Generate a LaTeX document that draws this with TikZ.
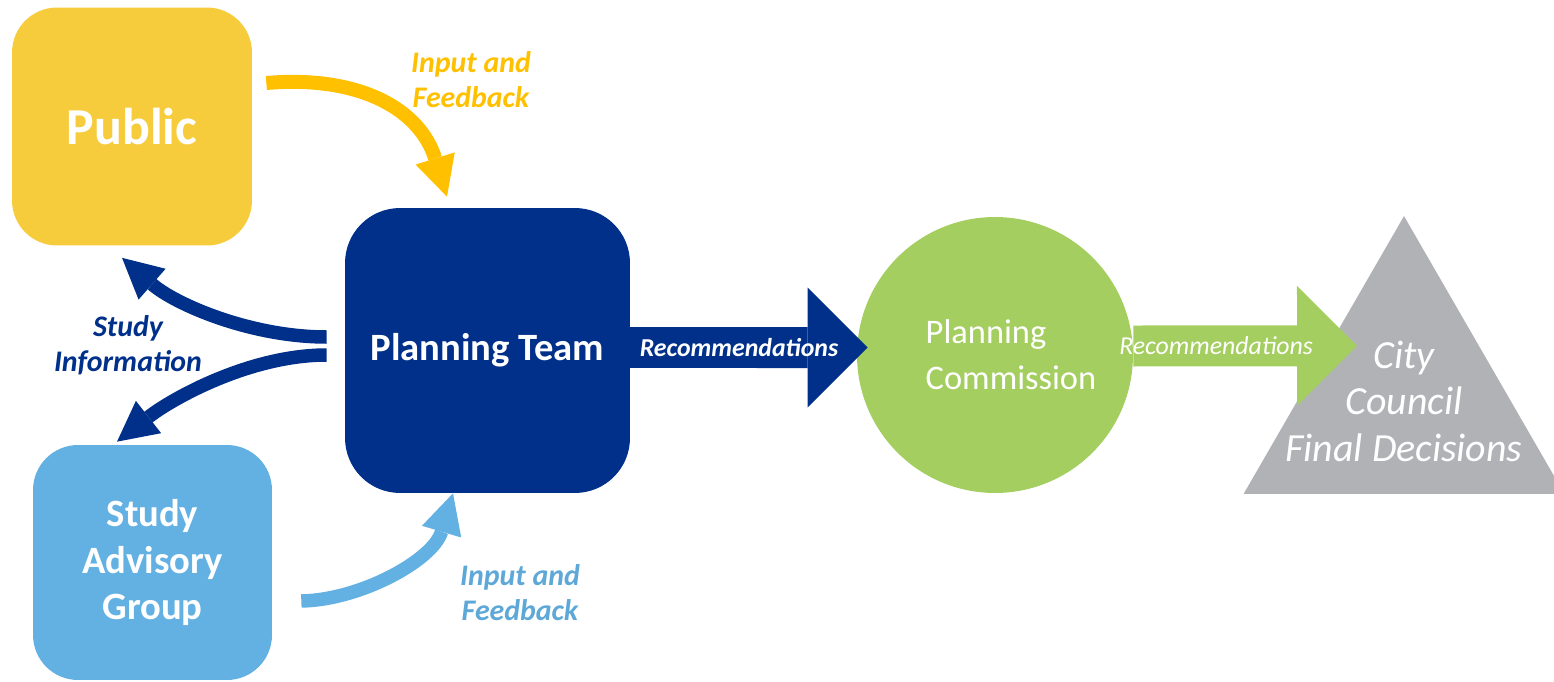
\documentclass[tikz,border=0pt]{standalone}
\usepackage{fontspec}
\setmainfont{Carlito}
\usetikzlibrary{
    shapes.geometric,
    arrows.meta,
    positioning
}
\definecolor{publicgold}{HTML}{F6CC3C}
\definecolor{feedgold}{HTML}{FFC000}
\definecolor{teamblue}{HTML}{00308A}
\definecolor{advisoryblue}{HTML}{63B1E3}
\definecolor{commissiongreen}{HTML}{A4CE5F}
\definecolor{councilgray}{HTML}{B1B2B6}
\tikzset{
    % Rounded group boxes
    panel/.style={
        rectangle,
        rounded corners=0.9cm,
        fill=#1,
        text=white,
        align=center,
        inner sep=0pt,
        font=\fontsize{22}{26.5}\selectfont\bfseries
    },
    % Curved feedback arrows
    curved flow/.style={
        -{Triangle[length=0.8cm, width=0.82cm, line width=0pt]},
        line width=0.27cm,
        color=#1
    },
    % Wide block arrows
    block flow/.style={
        -{Triangle[length=1.2cm, width=2.4cm, line width=0pt]},
        line width=0.82cm,
        color=#1
    },
    % Arrow labels
    flow label/.style={
        font=\fontsize{17}{20}\selectfont\bfseries\itshape,
        text=#1,
        align=center
    },
    block label/.style={
        font=\fontsize{14.7}{17}\selectfont\itshape,
        text=white
    }
}

\begin{document}
\begin{tikzpicture}[x=0.02cm, y=-0.02cm]
    \useasboundingbox (0,0) rectangle (1554,682);

    % Groups
    \node[panel=publicgold, minimum width=4.8cm, minimum height=4.76cm,
          font=\fontsize{29.5}{34}\selectfont\bfseries] (public) at (132,126.5) {Public};
    \node[panel=advisoryblue, minimum width=4.78cm, minimum height=4.7cm] (advisory) at (152.5,562.5) {Study\\Advisory\\Group};
    \node[panel=teamblue, minimum width=5.7cm, minimum height=5.7cm, rounded corners=1.1cm] (team) at (487.5,350.5) {Planning Team};

    % Decision bodies
    \node[regular polygon, regular polygon sides=3, minimum size=7.41cm, inner sep=0pt, fill=councilgray] (council) at (1404,401.3) {};
    \node[font=\fontsize{22.7}{26.6}\selectfont\itshape, text=white, align=center] (council text) at (council.center) {City\\Council\\Final Decisions};
    \node[circle, minimum size=5.52cm, inner sep=0pt, fill=commissiongreen] (commission) at (995,355) {};
    \node[font=\fontsize{19.6}{26}\selectfont, text=white, align=left] (commission text) at ([xshift=0.32cm]commission.center) {Planning\\Commission};

    % Feedback loops
    \draw[curved flow=feedgold, line width=0.28cm] ([xshift=0.28cm, yshift=0.87cm]public.east)
        .. controls +(1.88cm,0.16cm) and +(-0.54cm,1.74cm) .. ([xshift=-0.81cm, yshift=0.22cm]team.north);
    \draw[curved flow=advisoryblue] ([xshift=0.58cm, yshift=-0.77cm]advisory.east)
        .. controls +(1.18cm,0.02cm) and +(-0.4cm,-1.34cm) .. ([xshift=-0.69cm]team.south);
    \node[flow label=feedgold] (public input) at (471,80) {Input and\\Feedback};
    \node[flow label=advisoryblue!95!black] (advisory input) at (520,593) {Input and\\Feedback};

    % Study information
    \draw[curved flow=teamblue] ([xshift=-0.36cm, yshift=0.27cm]team.west)
        .. controls +(-1.54cm,0cm) and +(1.05cm,-0.92cm) .. ([xshift=-0.2cm, yshift=-0.24cm]public.south);
    \draw[curved flow=teamblue] ([xshift=-0.36cm, yshift=-0.09cm]team.west)
        .. controls +(-1.54cm,0cm) and +(1.1cm,0.86cm) .. ([xshift=-0.71cm, yshift=0.06cm]advisory.north);
    \node[flow label=teamblue] (study info) at (128,345) {Study\\Information};

    % Recommendations
    \draw[block flow=commissiongreen] ([yshift=0.18cm]commission.east)
        -- node[block label, pos=0.37] {Recommendations} ([xshift=-0.94cm, yshift=1.11cm]council.center);
    \draw[block flow=teamblue] ([xshift=-0.4cm, yshift=0.06cm]team.east)
        -- node[block label, font=\fontsize{14.7}{17}\selectfont\bfseries\itshape] {Recommendations} ([xshift=0.22cm, yshift=0.15cm]commission.west);

\end{tikzpicture}
\end{document}
